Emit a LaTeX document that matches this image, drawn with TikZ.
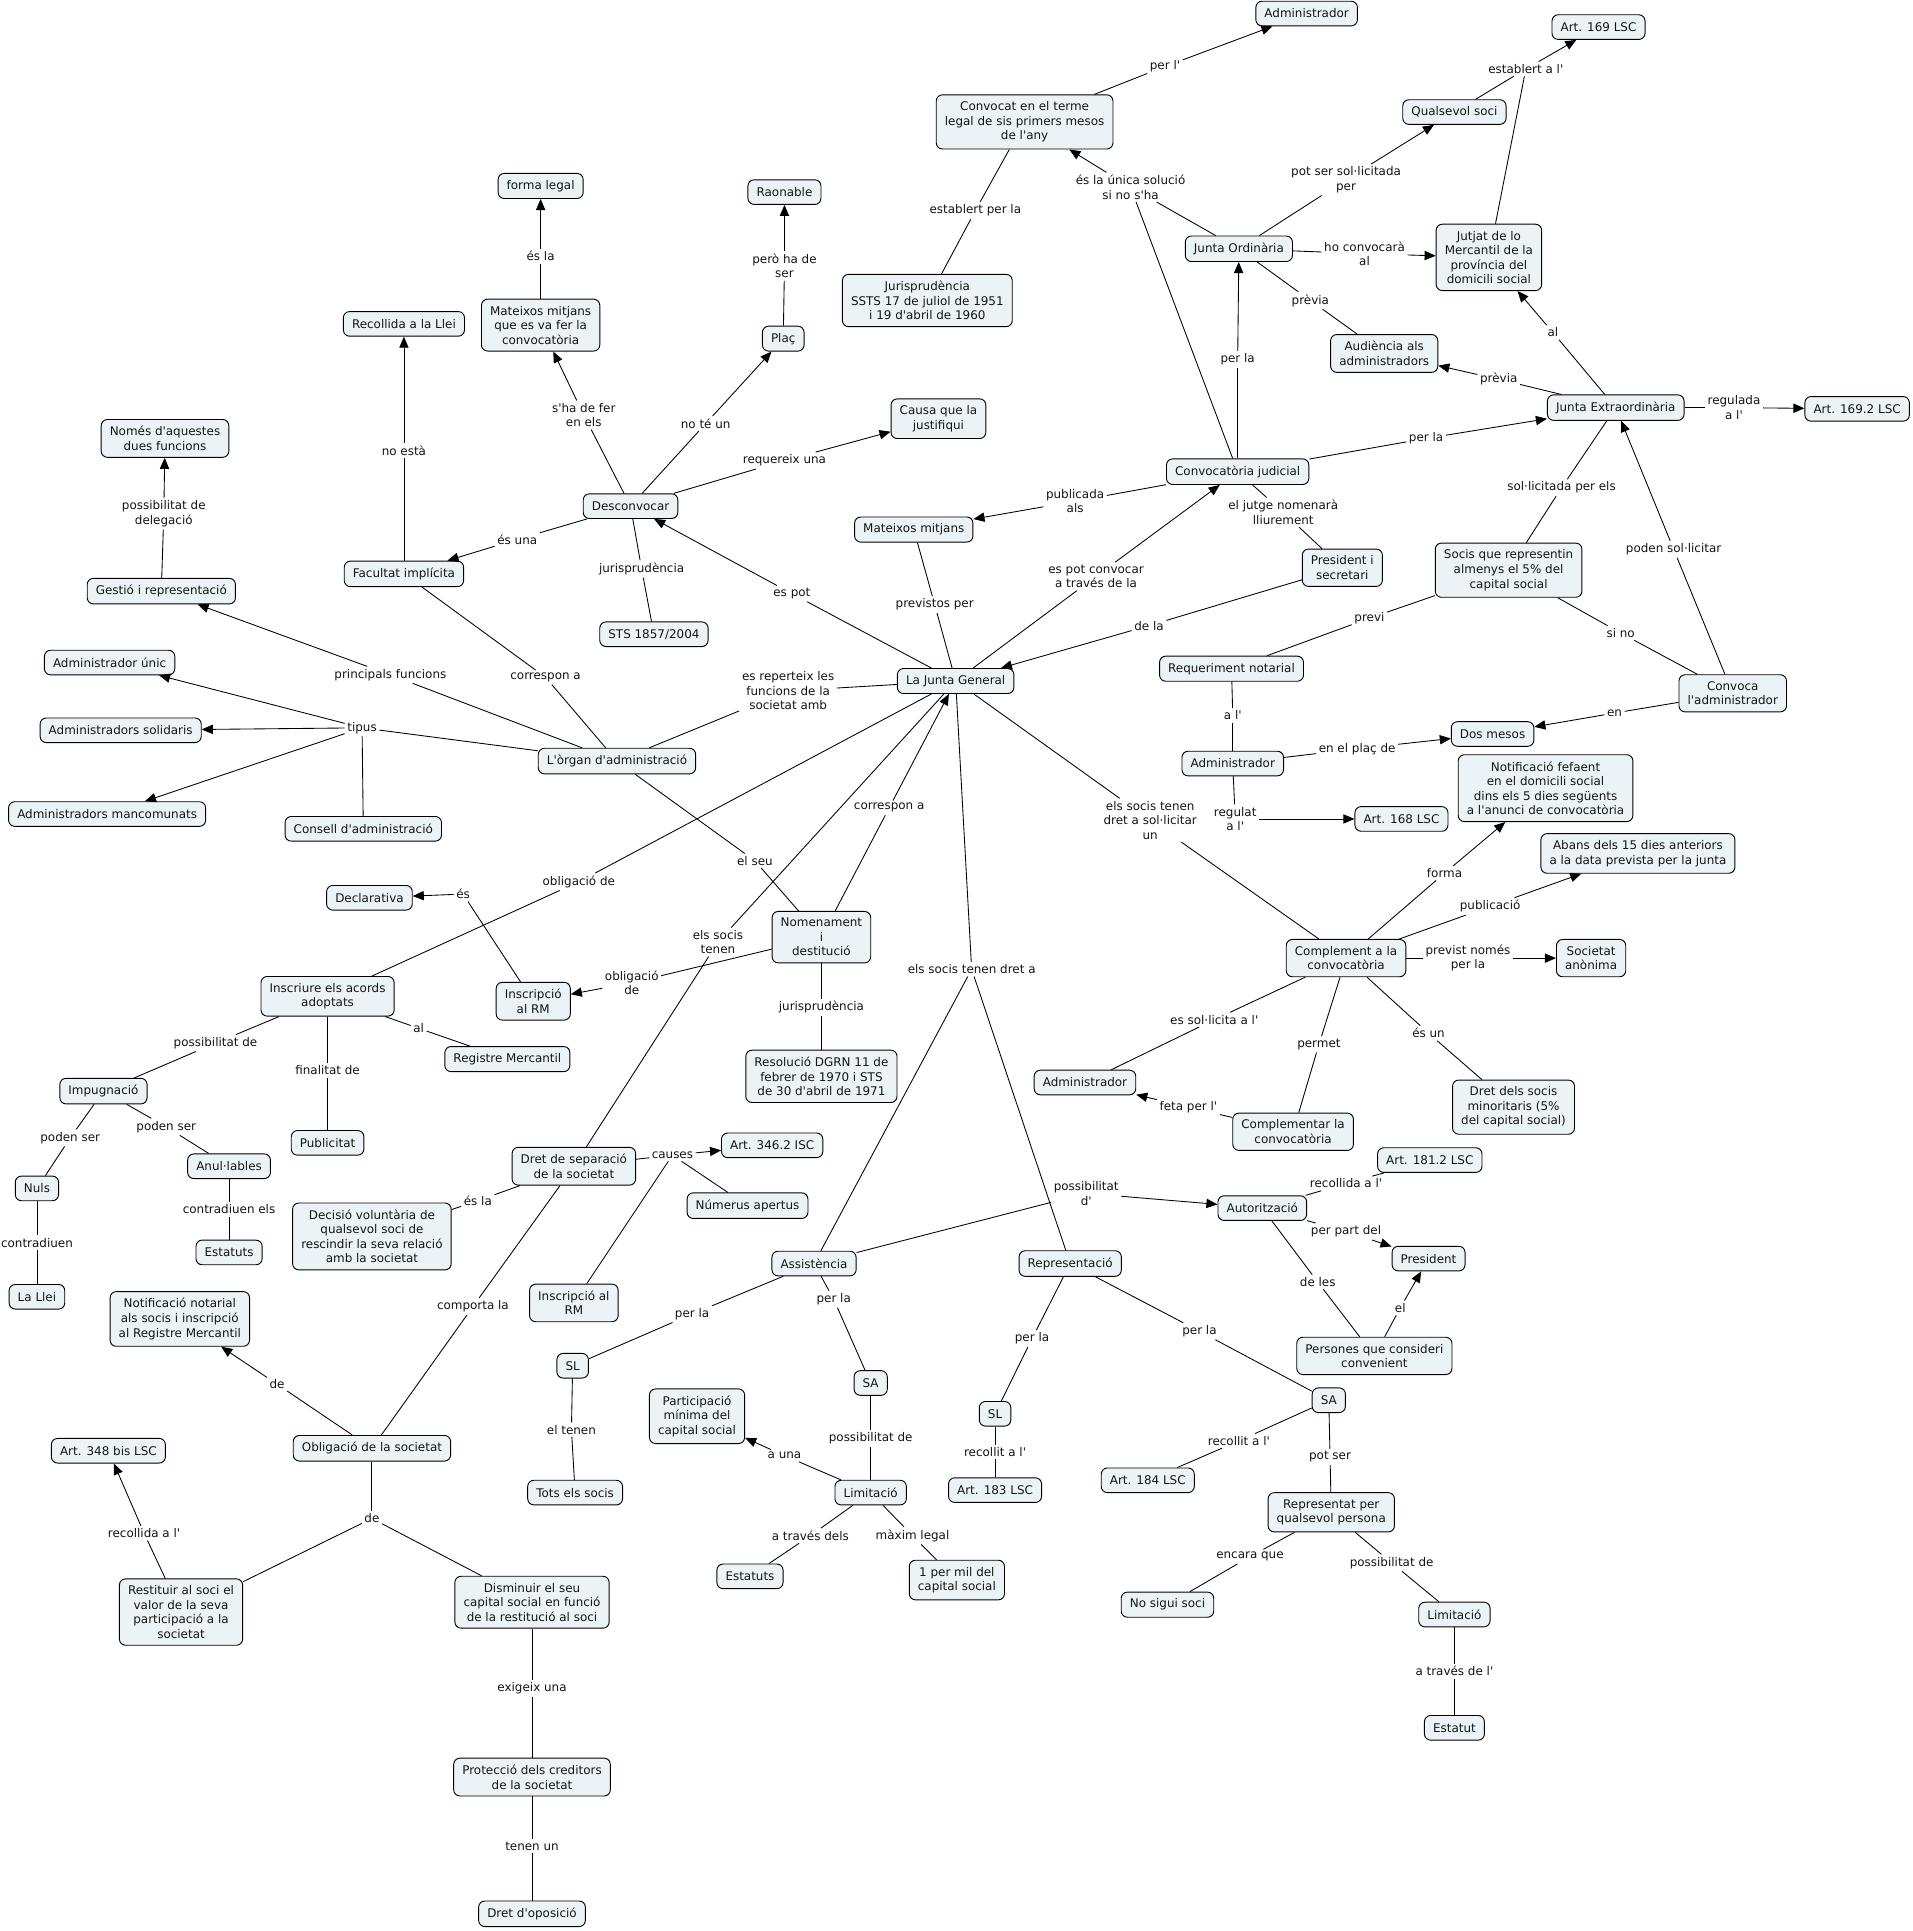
\documentclass[tikz,border=0pt]{standalone}
\usepackage{fontspec}
\setmainfont{DejaVu Sans}[Ligatures=TeXOff]
\usetikzlibrary{arrows.meta}
\definecolor{cfill}{RGB}{236,243,246}
\definecolor{ctext}{RGB}{20,20,20}
\newcommand\cmlink[3]{\draw[ln] (#1) -- (#2); \draw[ln] (#2) -- (#3);}
\newcommand\cmarrow[3]{\draw[ln] (#1) -- (#2); \draw[ar] (#2) -- (#3);}
\begin{document}
\begin{tikzpicture}[x=1pt,y=-1pt,
  c/.style={draw=black, fill=cfill, rounded corners=5pt, align=center, inner xsep=7pt, inner ysep=5.5pt, minimum height=20pt, font=\fontsize{9.7}{11.8}\selectfont, text=ctext, line width=0.75pt},
  lb/.style={align=center, inner sep=2pt, font=\fontsize{9.7}{11.8}\selectfont, text=ctext},
  ln/.style={line width=0.7pt, draw=black},
  ar/.style={ln, -{Triangle[length=9pt,width=7.5pt]}}]
\useasboundingbox[fill=white] (0,0) rectangle (1553,1568);
% concepts
\node[c] (admTop) at (1061,11) {Administrador};
\node[c] (a169) at (1298,22) {Art. 169 LSC};
\node[c] (qsoci) at (1181,91) {Qualsevol soci};
\node[c] (convocat) at (832,99) {Convocat en el terme\\legal de sis primers mesos\\de l'any};
\node[c] (forma) at (439,151) {forma legal};
\node[c] (raonable) at (637,156) {Raonable};
\node[c] (jutjat) at (1209,209) {Jutjat de lo\\Mercantil de la\\província del\\domicili social};
\node[c] (jo) at (1006,202) {Junta Ordinària};
\node[c] (juris1) at (753,244) {Jurisprudència\\SSTS 17 de juliol de 1951\\i 19 d'abril de 1960};
\node[c] (recollida) at (328,263) {Recollida a la Llei};
\node[c] (mmconv) at (439,264) {Mateixos mitjans\\que es va fer la\\convocatòria};
\node[c] (plac) at (636,275) {Plaç};
\node[c] (audiencia) at (1124,287) {Audiència als\\administradors};
\node[c] (je) at (1312,331) {Junta Extraordinària};
\node[c] (a1692) at (1508,332) {Art. 169.2 LSC};
\node[c] (causa) at (762,340) {Causa que la\\justifiqui};
\node[c] (nomes) at (134,356) {Només d'aquestes\\dues funcions};
\node[c] (cj) at (1005,383) {Convocatòria judicial};
\node[c] (desc) at (512,411) {Desconvocar};
\node[c] (mm) at (742,430) {Mateixos mitjans};
\node[c] (pres) at (1090,461) {President i\\secretari};
\node[c] (socis5) at (1225,463) {Socis que representin\\almenys el 5\% del\\capital social};
\node[c] (facultat) at (328,466) {Facultat implícita};
\node[c] (gestio) at (131,480) {Gestió i representació};
\node[c] (sts) at (531,515) {STS 1857/2004};
\node[c] (adunic) at (89,538) {Administrador únic};
\node[c] (req) at (1000,543) {Requeriment notarial};
\node[c] (jg) at (776,553) {La Junta General};
\node[c] (convoca) at (1407,563) {Convoca\\l'administrador};
\node[c] (adsol) at (98,593) {Administradors solidaris};
\node[c] (dosm) at (1212,596) {Dos mesos};
\node[c] (organ) at (501,618) {L'òrgan d'administració};
\node[c] (admMid) at (1001,620) {Administrador};
\node[c] (notif) at (1255,640) {Notificació fefaent\\en el domicili social\\dins els 5 dies següents\\a l'anunci de convocatòria};
\node[c] (admanc) at (87,661) {Administradors mancomunats};
\node[c] (a168) at (1138,665) {Art. 168 LSC};
\node[c] (consell) at (295,673) {Consell d'administració};
\node[c] (abans) at (1330,693) {Abans dels 15 dies anteriors\\a la data prevista per la junta};
\node[c] (declar) at (300,729) {Declarativa};
\node[c] (nomen) at (667,761) {Nomenament\\i\\destitució};
\node[c] (compl) at (1093,778) {Complement a la\\convocatòria};
\node[c] (sanon) at (1292,778) {Societat\\anònima};
\node[c] (inscriure) at (266,809) {Inscriure els acords\\adoptats};
\node[c] (insrm) at (433,813) {Inscripció\\al RM};
\node[c] (regm) at (412,860) {Registre Mercantil};
\node[c] (dgrn) at (667,874) {Resolució DGRN 11 de\\febrer de 1970 i STS\\de 30 d'abril de 1971};
\node[c] (admLow) at (881,879) {Administrador};
\node[c] (impug) at (84,886) {Impugnació};
\node[c] (complem) at (1050,919) {Complementar la\\convocatòria};
\node[c] (dretmin) at (1229,899) {Dret dels socis\\minoritaris (5\%\\del capital social)};
\node[c] (public) at (266,928) {Publicitat};
\node[c] (dretsep) at (466,947) {Dret de separació\\de la societat};
\node[c] (a3462) at (627,930) {Art. 346.2 ISC};
\node[c] (a1812) at (1161,942) {Art. 181.2 LSC};
\node[c] (anul) at (186,947) {Anul·lables};
\node[c] (nuls) at (30,965) {Nuls};
\node[c] (numerus) at (607,979) {Númerus apertus};
\node[c] (autor) at (1025,981) {Autorització};
\node[c] (decisio) at (302,1004) {Decisió voluntària de\\qualsevol soci de\\rescindir la seva relació\\amb la societat};
\node[c] (estatutsL) at (186,1017) {Estatuts};
\node[c] (presR) at (1160,1022) {President};
\node[c] (assist) at (661,1026) {Assistència};
\node[c] (repr) at (869,1026) {Representació};
\node[c] (llei) at (30,1053) {La Llei};
\node[c] (insrm2) at (466,1058) {Inscripció al\\RM};
\node[c] (notnot) at (146,1071) {Notificació notarial\\als socis i inscripció\\al Registre Mercantil};
\node[c] (persones) at (1116,1101) {Persones que consideri\\convenient};
\node[c] (slA) at (465,1109) {SL};
\node[c] (saA) at (707,1123) {SA};
\node[c] (saR) at (1079,1137) {SA};
\node[c] (particip) at (566,1150) {Participació\\mínima del\\capital social};
\node[c] (slR) at (808,1148) {SL};
\node[c] (oblig) at (302,1176) {Obligació de la societat};
\node[c] (a348) at (88,1178) {Art. 348 bis LSC};
\node[c] (a184) at (932,1202) {Art. 184 LSC};
\node[c] (a183) at (808,1210) {Art. 183 LSC};
\node[c] (tots) at (467,1212) {Tots els socis};
\node[c] (limA) at (707,1212) {Limitació};
\node[c] (reprq) at (1081,1228) {Representat per\\qualsevol persona};
\node[c] (estatutsM) at (609,1280) {Estatuts};
\node[c] (permil) at (777,1283) {1 per mil del\\capital social};
\node[c] (restituir) at (147,1309) {Restituir al soci el\\valor de la seva\\participació a la\\societat};
\node[c] (disminuir) at (432,1301) {Disminuir el seu\\capital social en funció\\de la restitució al soci};
\node[c] (nosoci) at (948,1303) {No sigui soci};
\node[c] (limR) at (1181,1311) {Limitació};
\node[c] (estatut) at (1181,1403) {Estatut};
\node[c] (proteccio) at (432,1443) {Protecció dels creditors\\de la societat};
\node[c] (oposicio) at (432,1554) {Dret d'oposició};
% linking phrases
\node[lb] (l1) at (946,54) {per l'};
\node[lb] (l2) at (792,171) {establert per la};
\node[lb] (l3) at (918,152) {és la única solució\\si no s'ha};
\node[lb] (l4) at (1093,146) {pot ser sol·licitada\\per};
\node[lb] (l5) at (1239,56) {establert a l'};
\node[lb] (l6) at (1108,206) {ho convocarà\\al};
\node[lb] (l7) at (1064,244) {prèvia};
\node[lb] (l8) at (1005,292) {per la};
\node[lb] (l9) at (1261,270) {al};
\node[lb] (l10) at (1217,308) {prèvia};
\node[lb] (l11) at (1408,331) {regulada\\a l'};
\node[lb] (l12) at (1158,356) {per la};
\node[lb] (l13) at (1268,396) {sol·licitada per els};
\node[lb] (l14) at (1359,446) {poden sol·licitar};
\node[lb] (l15) at (1316,514) {si no};
\node[lb] (l16) at (1311,579) {en};
\node[lb] (l17) at (1112,502) {previ};
\node[lb] (l18) at (1001,581) {a l'};
\node[lb] (l19) at (1102,608) {en el plaç de};
\node[lb] (l20) at (1003,665) {regulat\\a l'};
\node[lb] (l21) at (873,407) {publicada\\als};
\node[lb] (l22) at (1042,416) {el jutge nomenarà\\lliurement};
\node[lb] (l23) at (890,468) {es pot convocar\\a través de la};
\node[lb] (l24) at (933,508) {de la};
\node[lb] (l25) at (759,491) {previstos per};
\node[lb] (l26) at (643,482) {es pot};
\node[lb] (l27) at (474,337) {s'ha de fer\\en els};
\node[lb] (l28) at (439,208) {és la};
\node[lb] (l29) at (573,344) {no té un};
\node[lb] (l30) at (637,216) {però ha de\\ser};
\node[lb] (l31) at (637,374) {requereix una};
\node[lb] (l32) at (420,438) {és una};
\node[lb] (l33) at (521,462) {jurisprudència};
\node[lb] (l34) at (328,366) {no està};
\node[lb] (l35) at (443,550) {correspon a};
\node[lb] (l36) at (317,548) {principals funcions};
\node[lb] (l37) at (133,417) {possibilitat de\\delegació};
\node[lb] (l38) at (294,591) {tipus};
\node[lb] (l39) at (640,561) {es reperteix les\\funcions de la\\societat amb};
\node[lb] (l40) at (613,699) {el seu};
\node[lb] (l41) at (722,656) {correspon a};
\node[lb] (l42) at (513,798) {obligació\\de};
\node[lb] (l43) at (667,818) {jurisprudència};
\node[lb] (l44) at (376,726) {és};
\node[lb] (l45) at (470,716) {obligació de};
\node[lb] (l46) at (340,835) {al};
\node[lb] (l47) at (175,847) {possibilitat de};
\node[lb] (l48) at (266,869) {finalitat de};
\node[lb] (l49) at (57,924) {poden ser};
\node[lb] (l50) at (135,915) {poden ser};
\node[lb] (l51) at (30,1009) {contradiuen};
\node[lb] (l52) at (186,982) {contradiuen els};
\node[lb] (l53) at (583,765) {els socis\\tenen};
\node[lb] (l54) at (546,938) {causes};
\node[lb] (l55) at (388,975) {és la};
\node[lb] (l56) at (384,1061) {comporta la};
\node[lb] (l57) at (225,1124) {de};
\node[lb] (l58) at (302,1233) {de};
\node[lb] (l59) at (117,1245) {recollida a l'};
\node[lb] (l60) at (432,1371) {exigeix una};
\node[lb] (l61) at (432,1499) {tenen un};
\node[lb] (l62) at (789,787) {els socis tenen dret a};
\node[lb] (l63) at (562,1067) {per la};
\node[lb] (l64) at (677,1055) {per la};
\node[lb] (l65) at (464,1161) {el tenen};
\node[lb] (l66) at (707,1168) {possibilitat de};
\node[lb] (l67) at (637,1182) {a una};
\node[lb] (l68) at (658,1247) {a través dels};
\node[lb] (l69) at (741,1247) {màxim legal};
\node[lb] (l70) at (838,1087) {per la};
\node[lb] (l71) at (808,1179) {recollit a l'};
\node[lb] (l72) at (974,1081) {per la};
\node[lb] (l73) at (1006,1170) {recollit a l'};
\node[lb] (l74) at (1080,1183) {pot ser};
\node[lb] (l75) at (1015,1264) {encara que};
\node[lb] (l76) at (1130,1269) {possibilitat de};
\node[lb] (l77) at (1181,1357) {a través de l'};
\node[lb] (l78) at (882,969) {possibilitat\\d'};
\node[lb] (l79) at (1093,961) {recollida a l'};
\node[lb] (l80) at (1093,1000) {per part del};
\node[lb] (l81) at (1070,1041) {de les};
\node[lb] (l82) at (1137,1062) {el};
\node[lb] (l83) at (1173,709) {forma};
\node[lb] (l84) at (1210,736) {publicació};
\node[lb] (l85) at (1192,778) {previst només\\per la};
\node[lb] (l86) at (986,828) {es sol·licita a l'};
\node[lb] (l87) at (965,899) {feta per l'};
\node[lb] (l88) at (1071,848) {permet};
\node[lb] (l89) at (1160,839) {és un};
\node[lb] (l90) at (934,666) {els socis tenen\\dret a sol·licitar\\un};
% connections
\cmarrow{convocat}{l1}{admTop}
\cmlink{juris1}{l2}{convocat}
\draw[ln] (cj) -- (l3); \draw[ln] (jo) -- (l3); \draw[ar] (l3) -- (convocat);
\cmarrow{jo}{l4}{qsoci}
\draw[ln] (qsoci) -- (l5); \draw[ln] (jutjat) -- (l5); \draw[ar] (l5) -- (a169);
\cmarrow{jo}{l6}{jutjat}
\cmlink{jo}{l7}{audiencia}
\cmarrow{cj}{l8}{jo}
\cmarrow{je}{l9}{jutjat}
\cmarrow{je}{l10}{audiencia}
\cmarrow{je}{l11}{a1692}
\cmarrow{cj}{l12}{je}
\cmlink{je}{l13}{socis5}
\cmarrow{convoca}{l14}{je}
\cmlink{socis5}{l15}{convoca}
\cmarrow{convoca}{l16}{dosm}
\cmlink{socis5}{l17}{req}
\cmlink{req}{l18}{admMid}
\cmarrow{admMid}{l19}{dosm}
\draw[ln] (admMid) -- (l20); \draw[ar] (l20) -- (a168);
\cmarrow{cj}{l21}{mm}
\cmlink{cj}{l22}{pres}
\cmarrow{jg}{l23}{cj}
\cmarrow{pres}{l24}{jg}
\cmlink{mm}{l25}{jg}
\cmarrow{jg}{l26}{desc}
\cmarrow{desc}{l27}{mmconv}
\cmarrow{mmconv}{l28}{forma}
\cmarrow{desc}{l29}{plac}
\cmarrow{plac}{l30}{raonable}
\cmarrow{desc}{l31}{causa}
\cmarrow{desc}{l32}{facultat}
\cmlink{desc}{l33}{sts}
\cmarrow{facultat}{l34}{recollida}
\cmlink{organ}{l35}{facultat}
\cmarrow{organ}{l36}{gestio}
\cmarrow{gestio}{l37}{nomes}
\draw[ln] (organ) -- (l38);
\draw[ar] (l38) -- (adunic);
\draw[ar] (l38) -- (adsol);
\draw[ar] (l38) -- (admanc);
\draw[ln] (l38) -- (consell);
\cmlink{organ}{l39}{jg}
\cmlink{organ}{l40}{nomen}
\cmarrow{nomen}{l41}{jg}
\cmarrow{nomen}{l42}{insrm}
\cmlink{nomen}{l43}{dgrn}
\cmarrow{insrm}{l44}{declar}
\cmlink{jg}{l45}{inscriure}
\cmlink{inscriure}{l46}{regm}
\cmlink{inscriure}{l47}{impug}
\cmlink{inscriure}{l48}{public}
\cmlink{impug}{l49}{nuls}
\cmlink{impug}{l50}{anul}
\cmlink{nuls}{l51}{llei}
\cmlink{anul}{l52}{estatutsL}
\cmlink{jg}{l53}{dretsep}
\draw[ln] (dretsep) -- (l54); \draw[ar] (l54) -- (a3462);
\draw[ln] (l54) -- (numerus); \draw[ln] (l54) -- (insrm2);
\cmlink{dretsep}{l55}{decisio}
\cmlink{dretsep}{l56}{oblig}
\cmarrow{oblig}{l57}{notnot}
\draw[ln] (oblig) -- (l58); \draw[ln] (l58) -- (restituir); \draw[ln] (l58) -- (disminuir);
\cmarrow{restituir}{l59}{a348}
\cmlink{disminuir}{l60}{proteccio}
\cmlink{proteccio}{l61}{oposicio}
\draw[ln] (jg) -- (l62); \draw[ln] (l62) -- (assist); \draw[ln] (l62) -- (repr);
\cmlink{assist}{l63}{slA}
\cmlink{assist}{l64}{saA}
\cmlink{slA}{l65}{tots}
\cmlink{saA}{l66}{limA}
\cmarrow{limA}{l67}{particip}
\cmlink{limA}{l68}{estatutsM}
\cmlink{limA}{l69}{permil}
\cmlink{repr}{l70}{slR}
\cmlink{slR}{l71}{a183}
\cmlink{repr}{l72}{saR}
\cmlink{saR}{l73}{a184}
\cmlink{saR}{l74}{reprq}
\cmlink{reprq}{l75}{nosoci}
\cmlink{reprq}{l76}{limR}
\cmlink{limR}{l77}{estatut}
\cmarrow{assist}{l78}{autor}
\cmlink{autor}{l79}{a1812}
\cmarrow{autor}{l80}{presR}
\cmlink{autor}{l81}{persones}
\cmarrow{persones}{l82}{presR}
\cmarrow{compl}{l83}{notif}
\cmarrow{compl}{l84}{abans}
\cmarrow{compl}{l85}{sanon}
\cmlink{compl}{l86}{admLow}
\cmarrow{complem}{l87}{admLow}
\cmlink{compl}{l88}{complem}
\cmlink{compl}{l89}{dretmin}
\cmlink{jg}{l90}{compl}
\end{tikzpicture}
\end{document}
